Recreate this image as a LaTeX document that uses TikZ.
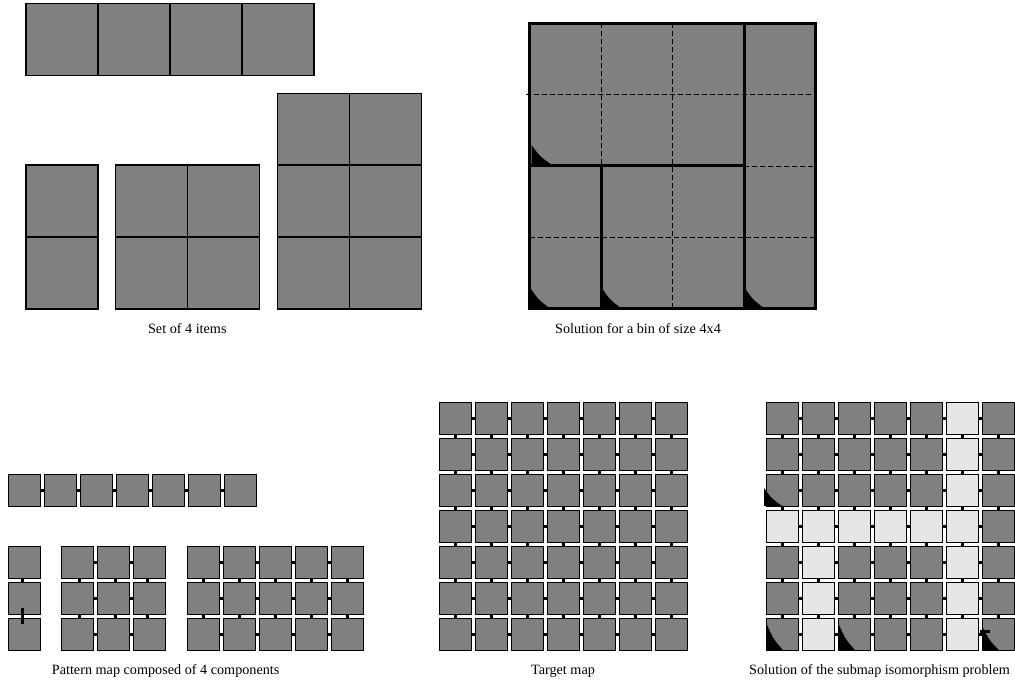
\documentclass[tikz,border=0pt]{standalone}
\usepackage{fontspec}
\setmainfont{Liberation Serif}
\definecolor{cellgray}{HTML}{808080}
\definecolor{cellpale}{HTML}{E6E6E6}
\newcommand\cornertri[4]{\fill[black] (#1,#2) -- (#1,#2-#4) .. controls (#1+0.42*#3,#2-0.42*#4) .. (#1+#3,#2) -- cycle;}
\begin{document}
\begin{tikzpicture}[x=1pt,y=-1pt,
  itembox/.style={fill=cellgray, draw=black, line width=1.1pt},
  itemline/.style={draw=black, line width=1.1pt},
  mcell/.style={draw=black, line width=0.9pt, fill=cellgray, minimum size=32pt, inner sep=0pt, outer sep=0pt},
  pale/.style={fill=cellpale},
  dart/.style={fill=black},
  binline/.style={line width=3pt, line cap=rect},
  dashline/.style={line width=0.7pt, dash pattern=on 5pt off 3pt},
  caption/.style={font=\fontsize{14.2}{16}\selectfont, inner sep=0pt, anchor=base}]
\useasboundingbox (0,0) rectangle (1015,684);

% ---------- Set of 4 items ----------
\draw[itembox] (26,3.5) rectangle (314,75.5);
\foreach \x in {98,170,242} \draw[itemline] (\x,3.5) -- (\x,75.5);
\draw[itembox] (26,165) rectangle (98,309);
\draw[itemline] (26,237) -- (98,237);
\draw[itembox] (115.7,165) rectangle (259.7,309);
\draw[itemline] (187.7,165) -- (187.7,309);
\draw[itemline] (115.7,237) -- (259.7,237);
\draw[itembox] (277.3,93.3) rectangle (421.7,309);
\draw[itemline] (349.5,93.3) -- (349.5,309);
\draw[itemline] (277.3,165) -- (421.7,165);
\draw[itemline] (277.3,237) -- (421.7,237);

% ---------- Bin solution ----------
\fill[cellgray] (529.5,23.5) rectangle (815,308.5);
\draw[dashline] (526,94.5) -- (815,94.5);
\draw[dashline] (744,166) -- (815,166);
\draw[dashline] (529.5,237.5) -- (815,237.5);
\draw[dashline] (601,23.5) -- (601,166);
\draw[dashline] (672.5,23.5) -- (672.5,308.5);
\draw[binline] (529.5,23.5) rectangle (815,308.5);
\draw[binline] (744,23.5) -- (744,308.5);
\draw[binline] (529.5,166) -- (744,166);
\draw[binline] (601,166) -- (601,308.5);
\cornertri{531.5}{164}{19}{19}
\cornertri{531}{307}{17}{18}
\cornertri{602.5}{307}{17}{18}
\cornertri{745.5}{307}{17}{18}

% ---------- Pattern map ----------
\foreach \i in {0,...,6} \node[mcell] (p0-\i) at ({24.35+36*\i},490.65) {};
\foreach \i [count=\j from 1] in {0,...,5}
  \fill[dart] ([yshift=-1.5pt]p0-\i.east) rectangle ([yshift=1.5pt]p0-\j.west);

% component 1 (column)
\foreach \r in {0,1,2} \node[mcell] (c1-\r) at (24.35,{562.35+36*\r}) {};
\fill[dart] ([xshift=-3.5pt]c1-0.south) rectangle ([xshift=-0.5pt]c1-1.north);
\fill[dart] ([xshift=-3.5pt,yshift=6.7pt]c1-1.south) rectangle ([xshift=-0.5pt,yshift=-6pt]c1-2.north);

% component 2 (3x3)
\foreach \r in {0,1,2} \foreach \c in {0,1,2}
  \node[mcell] (c2-\r-\c) at ({77.7+36*\c},{562.35+36*\r}) {};
\foreach \r in {0,1,2} \foreach \c [count=\d from 1] in {0,1}
  \fill[dart] ([yshift=-1.5pt]c2-\r-\c.east) rectangle ([yshift=1.5pt]c2-\r-\d.west);
\foreach \r [count=\s from 1] in {0,1} \foreach \c/\o in {0/2,1/2,2/-2}
  \fill[dart] ([xshift=\o pt-1.5pt]c2-\r-\c.south) rectangle ([xshift=\o pt+1.5pt]c2-\s-\c.north);

% component 3 (3x5)
\foreach \r in {0,1,2} \foreach \c in {0,...,4}
  \node[mcell] (c3-\r-\c) at ({203.65+36*\c},{562.35+36*\r}) {};
\foreach \r in {0,1,2} \foreach \c [count=\d from 1] in {0,...,3}
  \fill[dart] ([yshift=-1.5pt]c3-\r-\c.east) rectangle ([yshift=1.5pt]c3-\r-\d.west);
\foreach \r [count=\s from 1] in {0,1} \foreach \c in {0,...,4}
  \fill[dart] ([xshift=-1.5pt]c3-\r-\c.south) rectangle ([xshift=1.5pt]c3-\s-\c.north);

% ---------- Target map ----------
\foreach \r in {0,...,6} \foreach \c in {0,...,6}
  \node[mcell] (t-\r-\c) at ({455.35+36*\c},{418.65+36*\r}) {};
\foreach \r in {0,...,6} \foreach \c [count=\d from 1] in {0,...,5}
  \fill[dart] ([yshift=-1.5pt]t-\r-\c.east) rectangle ([yshift=1.5pt]t-\r-\d.west);
\foreach \r [count=\s from 1] in {0,...,5} \foreach \c in {0,...,6}
  \fill[dart] ([xshift=-1.5pt]t-\r-\c.south) rectangle ([xshift=1.5pt]t-\s-\c.north);

% ---------- Solution map ----------
\foreach \r in {0,...,6} \foreach \c in {0,...,6}
  \node[mcell] (s-\r-\c) at ({782.35+36*\c},{418.65+36*\r}) {};
\foreach \r/\c in {0/5,1/5,2/5,3/5,4/5,5/5,6/5,3/0,3/1,3/2,3/3,3/4,4/1,5/1,6/1}
  \node[mcell,pale] (sp-\r-\c) at (s-\r-\c) {};
\foreach \r in {0,...,6} \foreach \c [count=\d from 1] in {0,...,5}
  \fill[dart] ([yshift=-1.5pt]s-\r-\c.east) rectangle ([yshift=1.5pt]s-\r-\d.west);
\foreach \r [count=\s from 1] in {0,...,5} \foreach \c in {0,...,6}
  \fill[dart] ([xshift=-1.5pt]s-\r-\c.south) rectangle ([xshift=1.5pt]s-\s-\c.north);
\cornertri{764}{506}{18}{18}
\cornertri{766.35}{650.65}{17}{27}
\cornertri{838.35}{650.65}{17}{27}
\cornertri{982.35}{650.65}{17}{24}
\fill[dart] (980,629.5) rectangle (990,632.5);

% ---------- Captions ----------
\node[caption] (cap-items) at (187.3,333.7) {Set of 4 items};
\node[caption, anchor=base west] (cap-bin) at (555,333.7) {Solution for a bin of size 4x4};
\node[caption, anchor=base west] (cap-pattern) at (51.7,674.3) {Pattern map composed of 4 components};
\node[caption] (cap-target) at (563,674.3) {Target map};
\node[caption, anchor=base west] (cap-sol) at (749,674.3) {Solution of the submap isomorphism problem};
\end{tikzpicture}
\end{document}
